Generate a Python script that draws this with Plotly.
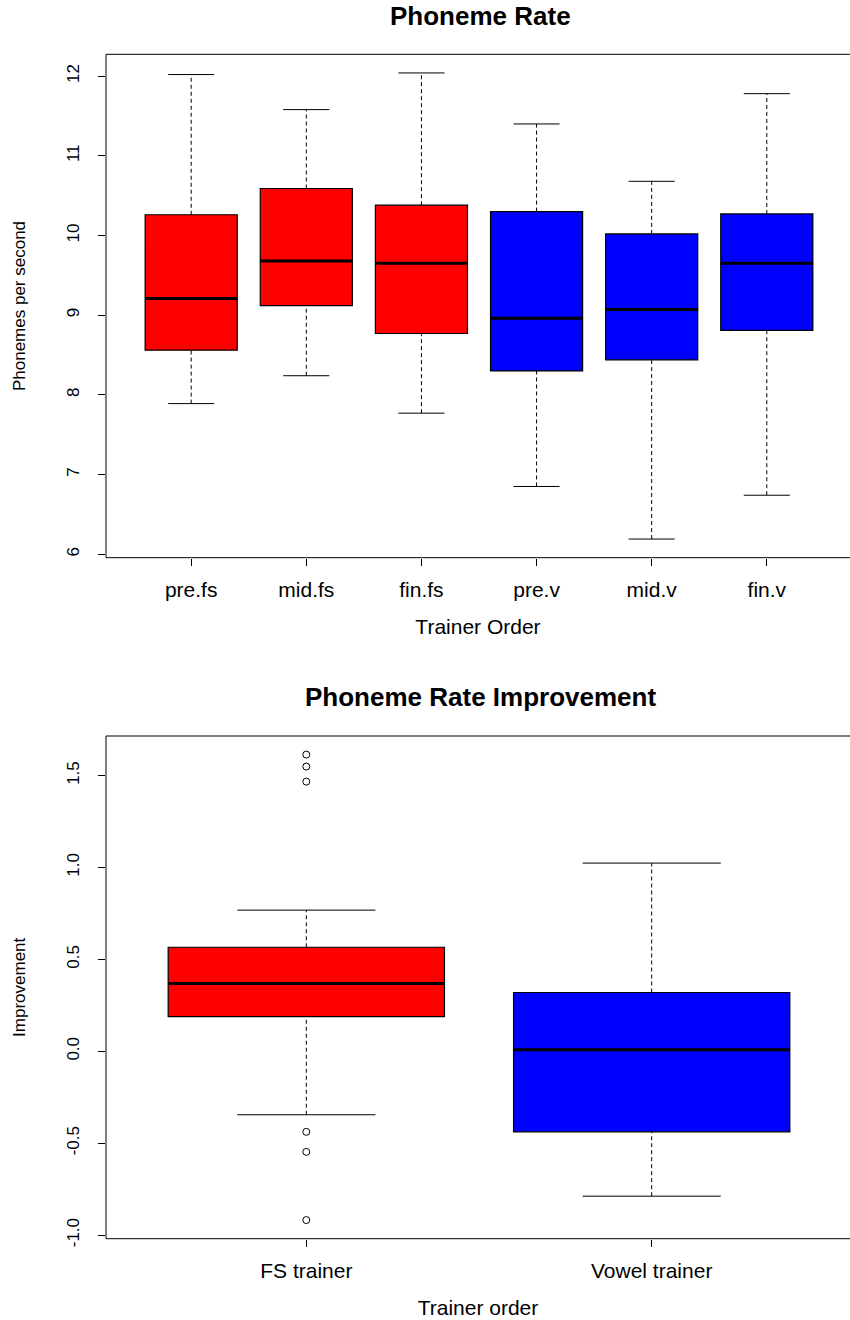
import plotly.graph_objects as go

# ---------------- data ----------------
cats_top = ["pre.fs", "mid.fs", "fin.fs", "pre.v", "mid.v", "fin.v"]
low_top = [7.89, 8.24, 7.77, 6.85, 6.19, 6.74]
q1_top = [8.56, 9.12, 8.77, 8.30, 8.44, 8.81]
med_top = [9.21, 9.68, 9.65, 8.96, 9.07, 9.65]
q3_top = [10.26, 10.59, 10.38, 10.30, 10.02, 10.27]
up_top = [12.02, 11.58, 12.04, 11.40, 10.68, 11.78]
col_top = ["#FF0000", "#FF0000", "#FF0000", "#0000FF", "#0000FF", "#0000FF"]
yticks_top = [6, 7, 8, 9, 10, 11, 12]
ytext_top = ["6", "7", "8", "9", "10", "11", "12"]

cats_bot = ["FS trainer", "Vowel trainer"]
low_bot = [-0.345, -0.788]
q1_bot = [0.189, -0.438]
med_bot = [0.369, 0.009]
q3_bot = [0.566, 0.320]
up_bot = [0.768, 1.024]
col_bot = ["#FF0000", "#0000FF"]
out_bot_group = [1, 1, 1, 1, 1, 1]
out_bot_val = [1.614, 1.549, 1.467, -0.438, -0.547, -0.918]
yticks_bot = [-1.0, -0.5, 0.0, 0.5, 1.0, 1.5]
ytext_bot = ["-1.0", "-0.5", "0.0", "0.5", "1.0", "1.5"]

FONT = "Liberation Sans, Arial, sans-serif"
W, H = 850, 1320
BOXW = 0.8
STAPLE = 0.4

fig = go.Figure()


def add_panel(xref, yref, cats, low, q1, med, q3, up, cols, outx=None, outy=None):
    pos = list(range(1, len(cats) + 1))
    for i, p in enumerate(pos):
        fig.add_trace(go.Box(
            x=[p], q1=[q1[i]], median=[med[i]], q3=[q3[i]],
            lowerfence=[q1[i]], upperfence=[q3[i]],
            width=BOXW, whiskerwidth=0, fillcolor=cols[i],
            line=dict(color="black", width=1.2), xaxis=xref, yaxis=yref,
            showlegend=False, hoverinfo="skip", boxpoints=False))
    wx, wy = [], []
    for i, p in enumerate(pos):
        wx += [p, p, None, p, p, None]
        wy += [q3[i], up[i], None, low[i], q1[i], None]
    fig.add_trace(go.Scatter(x=wx, y=wy, mode="lines", xaxis=xref, yaxis=yref,
                             line=dict(color="black", width=1, dash="4px,3px"),
                             showlegend=False, hoverinfo="skip"))
    sx, sy = [], []
    for i, p in enumerate(pos):
        sx += [p - STAPLE / 2, p + STAPLE / 2, None, p - STAPLE / 2, p + STAPLE / 2, None]
        sy += [up[i], up[i], None, low[i], low[i], None]
    fig.add_trace(go.Scatter(x=sx, y=sy, mode="lines", xaxis=xref, yaxis=yref,
                             line=dict(color="black", width=1),
                             showlegend=False, hoverinfo="skip"))
    mx, my = [], []
    for i, p in enumerate(pos):
        mx += [p - BOXW / 2, p + BOXW / 2, None]
        my += [med[i], med[i], None]
    fig.add_trace(go.Scatter(x=mx, y=my, mode="lines", xaxis=xref, yaxis=yref,
                             line=dict(color="black", width=3),
                             showlegend=False, hoverinfo="skip"))
    if outx is not None:
        fig.add_trace(go.Scatter(x=outx, y=outy, mode="markers", xaxis=xref, yaxis=yref,
                                 marker=dict(symbol="circle-open", size=7, color="black",
                                             line=dict(width=1, color="black")),
                                 showlegend=False, hoverinfo="skip"))


add_panel("x", "y", cats_top, low_top, q1_top, med_top, q3_top, up_top, col_top)
add_panel("x2", "y2", cats_bot, low_bot, q1_bot, med_bot, q3_bot, up_bot, col_bot,
          out_bot_group, out_bot_val)


def yrange(lo_vals, hi_vals):
    lo, hi = min(lo_vals), max(hi_vals)
    pad = 0.04 * (hi - lo)
    return [lo - pad, hi + pad]


def xrange(n, left_px=106.0, right_px=853.0, crop_px=851.0):
    lo = 0.5 - 0.04 * n
    hi = n + 0.5 + 0.04 * n
    per = (hi - lo) / (right_px - left_px)
    return [lo, lo + (crop_px - left_px) * per]


xdom = [106 / W, 1.0]
ydom_top = [1 - 557.7 / H, 1 - 54.3 / H]
ydom_bot = [1 - 1238.7 / H, 1 - 736 / H]

axis_common = dict(showgrid=False, zeroline=False, showline=False,
                   ticks="outside", ticklen=7, tickcolor="black",
                   tickwidth=1, automargin=False)

fig.update_layout(
    width=W, height=H, margin=dict(l=0, r=0, t=0, b=0),
    paper_bgcolor="white", plot_bgcolor="white",
    font=dict(family=FONT, color="black"),
    xaxis=dict(domain=xdom, anchor="y", range=xrange(6),
               tickvals=list(range(1, 7)), ticktext=cats_top,
               tickfont=dict(size=21), ticklabelstandoff=6,
               title=dict(text="Trainer Order", font=dict(size=21), standoff=19),
               **axis_common),
    yaxis=dict(domain=ydom_top, anchor="x", range=yrange(low_top, up_top),
               tickvals=yticks_top, ticktext=ytext_top, tickangle=-90,
               tickfont=dict(size=17), ticklabelstandoff=12,
               title=dict(text="Phonemes per second", font=dict(size=17), standoff=34),
               **axis_common),
    xaxis2=dict(domain=xdom, anchor="y2", range=xrange(2),
                tickvals=[1, 2], ticktext=cats_bot,
                tickfont=dict(size=21), ticklabelstandoff=6,
                title=dict(text="Trainer order", font=dict(size=21), standoff=19),
                **axis_common),
    yaxis2=dict(domain=ydom_bot, anchor="x2",
                range=yrange(low_bot + out_bot_val, up_bot + out_bot_val),
                tickvals=yticks_bot, ticktext=ytext_bot, tickangle=-90,
                tickfont=dict(size=17), ticklabelstandoff=12,
                title=dict(text="Improvement", font=dict(size=17), standoff=34),
                **axis_common),
    annotations=[
        dict(text="<b>Phoneme Rate</b>", x=480 / W, y=1 - 16 / H, xref="paper", yref="paper",
             showarrow=False, font=dict(size=26, family=FONT), xanchor="center", yanchor="middle"),
        dict(text="<b>Phoneme Rate Improvement</b>", x=480 / W, y=1 - 697 / H, xref="paper",
             yref="paper", showarrow=False, font=dict(size=26, family=FONT),
             xanchor="center", yanchor="middle"),
    ],
)

# R-style box frame: left, top and bottom edges (right edge falls outside the image)
for xr, yr in (("x", "y"), ("x2", "y2")):
    fr = dict(type="line", xref=f"{xr} domain", yref=f"{yr} domain",
              line=dict(color="black", width=1), layer="above")
    fig.add_shape(x0=0, x1=1.05, y0=1, y1=1, **fr)
    fig.add_shape(x0=0, x1=1.05, y0=0, y1=0, **fr)
    fig.add_shape(x0=0, x1=0, y0=0, y1=1, **fr)

fig.write_html("out.html")
